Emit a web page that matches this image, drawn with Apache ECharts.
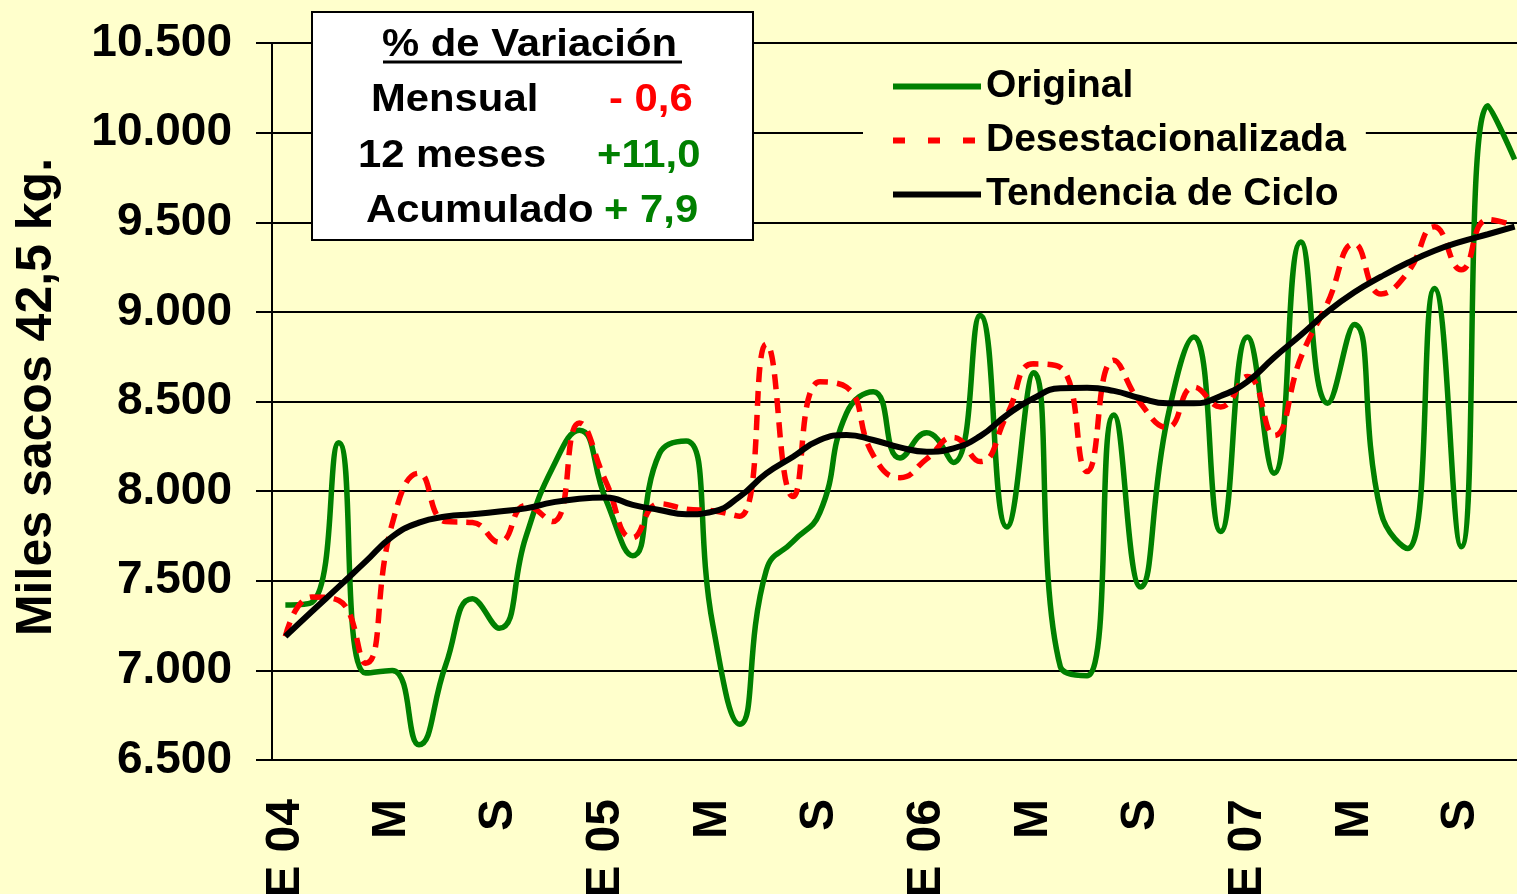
<!DOCTYPE html>
<html>
<head>
<meta charset="utf-8">
<script src="https://cdn.jsdelivr.net/npm/echarts@6/dist/echarts.min.js"></script>
<style>
html, body { margin: 0; padding: 0; overflow: hidden; background: #FFFFCC; }
#c { width: 1540px; height: 894px; }
</style>
</head>
<body>
<div id="c"></div>
<script>
// ---- Data ----
const categories = [
  'E 04','F','M','A','M','J','J','A','S','O','N','D',
  'E 05','F','M','A','M','J','J','A','S','O','N','D',
  'E 06','F','M','A','M','J','J','A','S','O','N','D',
  'E 07','F','M','A','M','J','J','A','S','O','N'
];
const original = [
  7365, 7380, 8270, 6985, 7000, 6585, 7030, 7400, 7235, 7745, 8130, 8340,
  7950, 7640, 8210, 8280, 7250, 6700, 7560, 7720, 7880, 8435, 8555, 8185,
  8325, 8160, 8980, 7800, 8660, 7020, 6970, 8425, 7465, 8400, 8860, 7775,
  8860, 8100, 9390, 8490, 8930, 7880, 7680, 9130, 7690, 10150, 9850
];
const desestacionalizada = [
  7190, 7410, 7390, 7040, 7820, 8100, 7830, 7825, 7715, 7920, 7830, 8380,
  8050, 7740, 7930, 7900, 7890, 7860, 8820, 7970, 8610, 8580, 8200, 8075,
  8180, 8300, 8165, 8425, 8710, 8690, 8110, 8730, 8490, 8355, 8580, 8470,
  8640, 8310, 8745, 9050, 9380, 9100, 9220, 9475, 9235, 9515, 9480
];
const tendencia = [
  7190, 7330, 7467, 7607, 7746, 7824, 7858, 7871, 7886, 7904, 7937, 7958,
  7965, 7923, 7895, 7871, 7886, 7969, 8099, 8192, 8285, 8313, 8285, 8244,
  8220, 8239, 8307, 8425, 8518, 8574, 8577, 8559, 8518, 8490, 8490, 8531,
  8611, 8746, 8871, 9001, 9109, 9196, 9274, 9341, 9392, 9433, 9475
];
const seriesNames = ['Original', 'Desestacionalizada', 'Tendencia de Ciclo'];
const yMin = 6500, yMax = 10500, yStep = 500;
const yTitle = 'Miles sacos 42,5 kg.';
const boxTitle = '% de Variación';
const variacionLabels = ['Mensual', '12 meses', 'Acumulado'];
const variacionValues = ['- 0,6', '+11,0', '+ 7,9'];
const variacionColors = ['#FF0000', '#008000', '#008000'];

// ---- Chart ----
const FF = '"Liberation Sans", Arial, Helvetica, sans-serif';
const chart = echarts.init(document.getElementById('c'), null, { renderer: 'canvas' });

function fmt(v) {
  return String(v).replace(/\B(?=(\d{3})+(?!\d))/g, '.');
}

function boxText(txt, x, y, color) {
  return {
    type: 'text', x: x, y: y, scaleX: 1.1, z: 20,
    style: {
      text: txt, x: 0, y: 0, fill: color,
      font: 'bold 38px ' + FF,
      textAlign: 'left', textVerticalAlign: 'middle',
      align: 'left', verticalAlign: 'middle'
    }
  };
}

const rowY = [101, 157, 212];
const labelX = [371, 358, 366];
const valueX = [609, 597, 604];
const graphics = [
  { type: 'rect', z: 19, shape: { x: 312, y: 12, width: 441, height: 228 },
    style: { fill: '#FFFFFF', stroke: '#000000', lineWidth: 2 } },
  boxText(boxTitle, 382, 46, '#000000'),
  { type: 'line', z: 20, shape: { x1: 383, y1: 62, x2: 682, y2: 62 },
    style: { stroke: '#000000', lineWidth: 3 } },
  {
    type: 'text', x: 37, y: 397, rotation: Math.PI / 2, z: 20,
    style: {
      text: yTitle, x: 0, y: 0, fill: '#000000',
      font: 'bold 50px ' + FF,
      textAlign: 'center', textVerticalAlign: 'middle',
      align: 'center', verticalAlign: 'middle'
    }
  }
];
variacionLabels.forEach((l, i) => {
  graphics.push(boxText(l, labelX[i], rowY[i], '#000000'));
  graphics.push(boxText(variacionValues[i], valueX[i], rowY[i], variacionColors[i]));
});

const option = {
  animation: false,
  backgroundColor: '#FFFFCC',
  textStyle: { fontFamily: FF },
  grid: { left: 272, top: 43, width: 1256, height: 717, containLabel: false, outerBoundsMode: 'none' },
  legend: {
    orient: 'vertical', left: 863, top: 53,
    padding: [14, 20, 4, 27],
    backgroundColor: '#FFFFCC',
    itemWidth: 88, itemHeight: 14, itemGap: 15,
    itemStyle: { opacity: 0, borderWidth: 0 },
    lineStyle: { width: 6 },
    textStyle: { fontSize: 39, fontWeight: 'bold', fontFamily: FF, color: '#000', lineHeight: 38 },
    data: [
      { name: seriesNames[0] },
      { name: seriesNames[1], lineStyle: { width: 6, type: [12, 23] } },
      { name: seriesNames[2] }
    ]
  },
  xAxis: {
    type: 'category', data: categories, boundaryGap: true,
    axisLine: { lineStyle: { color: '#000', width: 2 } },
    axisTick: { interval: 0, length: 16, lineStyle: { color: '#000', width: 2 } },
    axisLabel: {
      interval: 3, rotate: 90, margin: 39,
      fontSize: 48, fontWeight: 'bold', color: '#000', fontFamily: FF
    },
    splitLine: { show: false }
  },
  yAxis: {
    type: 'value', min: yMin, max: yMax, interval: yStep,
    axisLine: { show: true, lineStyle: { color: '#000', width: 2 } },
    axisTick: { show: true, length: 16, lineStyle: { color: '#000', width: 2 } },
    axisLabel: {
      margin: 40, fontSize: 46, fontWeight: 'bold', color: '#000', fontFamily: FF,
      formatter: fmt
    },
    splitLine: { show: true, lineStyle: { color: '#000', width: 2 } }
  },
  series: [
    {
      name: seriesNames[0], type: 'line', data: original, smooth: 0.5,
      symbol: 'none', color: '#008000',
      lineStyle: { color: '#008000', width: 5.5 }, z: 3
    },
    {
      name: seriesNames[1], type: 'line', data: desestacionalizada, smooth: 0.5,
      symbol: 'none', color: '#FF0000',
      lineStyle: { color: '#FF0000', width: 5.5, type: [15, 9] }, z: 4
    },
    {
      name: seriesNames[2], type: 'line', data: tendencia, smooth: 0.5,
      symbol: 'none', color: '#000000',
      lineStyle: { color: '#000000', width: 6 }, z: 5
    }
  ],
  graphic: graphics
};
chart.setOption(option);
</script>
</body>
</html>
